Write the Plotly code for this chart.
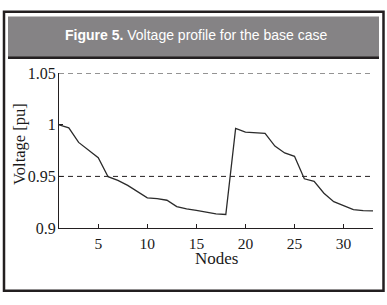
import plotly.graph_objects as go

nodes = list(range(1, 34))
voltage = [1.0, 0.9970, 0.9829, 0.9755, 0.9681, 0.9497, 0.9462, 0.9413, 0.9351, 0.9292,
           0.9284, 0.9269, 0.9208, 0.9185, 0.9171, 0.9157, 0.9137, 0.9131, 0.9965, 0.9929,
           0.9922, 0.9916, 0.9794, 0.9727, 0.9694, 0.9477, 0.9452, 0.9337, 0.9255, 0.9220,
           0.9178, 0.9169, 0.9166]
limit_lines = [1.05, 0.95]
x_ticks = [5, 10, 15, 20, 25, 30]
y_ticks = [0.9, 0.95, 1.0, 1.05]
y_ticklabels = ["0.9", "0.95", "1", "1.05"]

W, H = 387, 305
def px(x):
    return x / W
def py(y):
    return 1 - y / H

fig = go.Figure()
for lv in limit_lines:
    fig.add_trace(go.Scatter(x=[nodes[0], nodes[-1]], y=[lv, lv], mode="lines",
                             line=dict(color="#231f20", width=1, dash="5px,4px"),
                             hoverinfo="skip", showlegend=False))
fig.add_trace(go.Scatter(x=nodes, y=voltage, mode="lines",
                         line=dict(color="#2b2b2b", width=1.3), showlegend=False))

serif = "Liberation Serif"
fig.update_layout(
    width=W, height=H,
    margin=dict(l=0, r=0, t=0, b=0),
    paper_bgcolor="white", plot_bgcolor="white",
    showlegend=False,
    xaxis=dict(domain=[px(59), px(373)], range=[1, 33], tickvals=x_ticks,
               ticks="inside", ticklen=4, tickcolor="#231f20", showgrid=False, zeroline=False,
               showline=True, linecolor="#231f20", linewidth=1, ticklabelstandoff=1,
               tickfont=dict(family=serif, size=15.5, color="#1a1a1a")),
    yaxis=dict(domain=[py(233), py(69)], range=[0.9, 1.05], tickvals=y_ticks, ticktext=y_ticklabels,
               ticks="inside", ticklen=4, tickcolor="#231f20", showgrid=False, zeroline=False,
               showline=True, linecolor="#231f20", linewidth=1, ticklabelstandoff=-1,
               tickfont=dict(family=serif, size=16, color="#1a1a1a")),
    shapes=[
        dict(type="rect", xref="paper", yref="paper", x0=px(4), x1=px(383.5), y0=py(4), y1=py(299.5),
             line=dict(color="#231f20", width=2.5), fillcolor="rgba(0,0,0,0)", layer="above"),
        dict(type="rect", xref="paper", yref="paper", x0=px(8), x1=px(379), y0=py(9), y1=py(51),
             line=dict(width=0), fillcolor="#858385"),
        dict(type="rect", xref="paper", yref="paper", x0=px(8), x1=px(379), y0=py(51), y1=py(54),
             line=dict(width=0), fillcolor="#231f20"),
    ],
    annotations=[
        dict(text="<b>Figure 5.</b> Voltage profile for the base case", xref="paper", yref="paper",
             x=px(196), y=py(29), xanchor="center", yanchor="middle", showarrow=False,
             font=dict(family="Liberation Sans", size=14, color="white")),
        dict(text="Nodes", xref="paper", yref="paper", x=px(217), y=py(265),
             xanchor="center", yanchor="middle", showarrow=False,
             font=dict(family=serif, size=17, color="#1a1a1a")),
        dict(text="Voltage [pu]", xref="paper", yref="paper", x=px(20), y=py(144),
             xanchor="center", yanchor="middle", showarrow=False, textangle=-90,
             font=dict(family=serif, size=16.5, color="#1a1a1a")),
    ],
)
fig.write_html("out.html", config={"displayModeBar": False},
               post_script="document.body.style.margin='0';document.body.style.overflow='hidden';")
